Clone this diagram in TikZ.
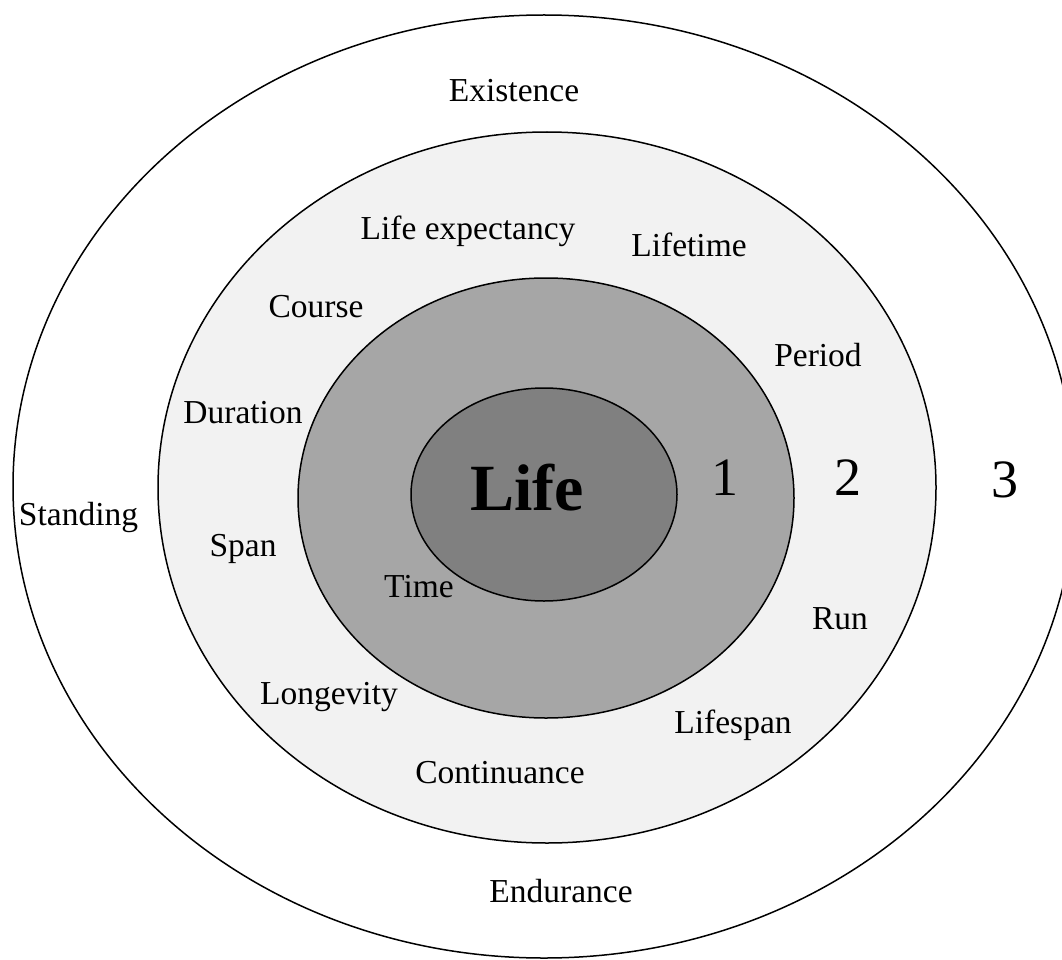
\documentclass[tikz,border=0pt]{standalone}
\usepackage{fontspec}
\setmainfont{Liberation Serif}
\begin{document}
\begin{tikzpicture}[x=1pt,y=-1pt,
  ring/.style={draw=black,line width=1.5pt},
  word/.style={inner sep=0pt,anchor=base,font=\fontsize{33.5}{40}\selectfont},
  digit/.style={inner sep=0pt,anchor=base,font=\fontsize{54}{60}\selectfont},
  core/.style={inner sep=0pt,anchor=base,font=\fontsize{66}{72}\selectfont\bfseries}]
\useasboundingbox (0,0) rectangle (1062,960);
\fill[white] (0,0) rectangle (1062,960);

% nested rings, outermost first
\draw[ring,fill=white]   (544,486.5) ellipse [x radius=531,y radius=471.5];
\draw[ring,fill=black!5] (547,487.5) ellipse [x radius=389,y radius=355.5];
\draw[ring,fill=black!35](546,498)   ellipse [x radius=248,y radius=220];
\draw[ring,fill=black!50](544,494.5) ellipse [x radius=133,y radius=106.5];

% centre
\node[core]  (life) at (527,510) {Life};

% ring numbers
\node[digit] (n1) at (725,495) {1};
\node[digit] (n2) at (848,495) {2};
\node[digit] (n3) at (1005,497) {3};

% outer ring words
\node[word] (existence) at (514,102) {Existence};
\node[word] (standing)  at (78.5,525) {Standing};
\node[word] (endurance) at (561,902) {Endurance};

% middle ring words
\node[word] (lifeexp)     at (468,239) {Life expectancy};
\node[word] (lifetime)    at (689,256) {Lifetime};
\node[word] (course)      at (316,317) {Course};
\node[word] (period)      at (818,366) {Period};
\node[word] (duration)    at (243,423) {Duration};
\node[word] (span)        at (243,556) {Span};
\node[word] (run)         at (840,629) {Run};
\node[word] (longevity)   at (329,704) {Longevity};
\node[word] (lifespan)    at (733,733) {Lifespan};
\node[word] (continuance) at (500,783) {Continuance};

% inner ring word
\node[word] (time) at (419,597) {Time};
\end{tikzpicture}
\end{document}
